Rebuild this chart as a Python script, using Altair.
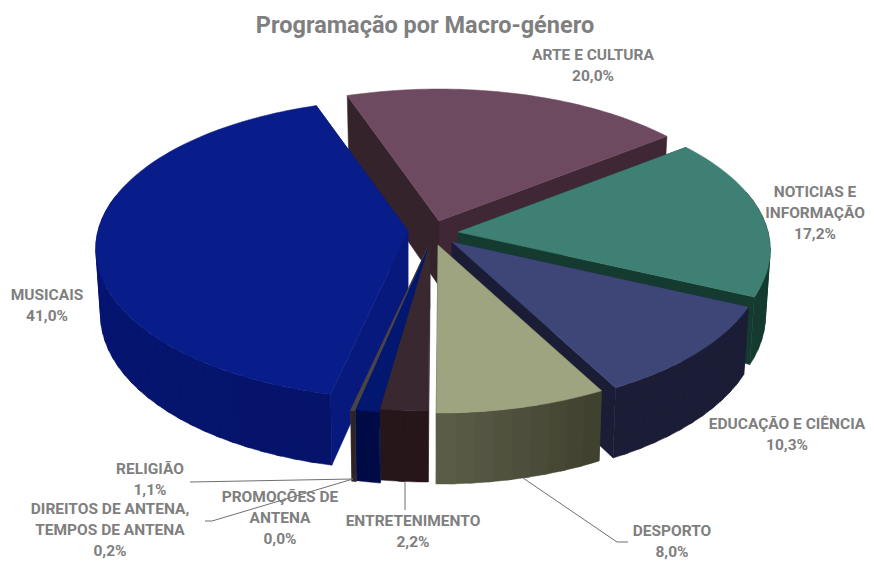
import math
import altair as alt

# --- data
categories = ["ARTE E CULTURA", "NOTICIAS E INFORMAÇÃO", "EDUCAÇÃO E CIÊNCIA", "DESPORTO",
              "ENTRETENIMENTO", "PROMOÇÕES DE ANTENA", "RELIGIÃO",
              "DIREITOS DE ANTENA, TEMPOS DE ANTENA", "MUSICAIS"]
shares = [20.0, 17.2, 10.3, 8.0, 2.2, 0.0, 1.1, 0.2, 41.0]
label_texts = ["ARTE E CULTURA\n20,0%", "NOTICIAS E\nINFORMAÇÃO\n17,2%", "EDUCAÇÃO E CIÊNCIA\n10,3%",
               "DESPORTO\n8,0%", "ENTRETENIMENTO\n2,2%", "PROMOÇÕES DE\nANTENA\n0,0%", "RELIGIÃO\n1,1%",
               "DIREITOS DE ANTENA,\nTEMPOS DE ANTENA\n0,2%", "MUSICAIS\n41,0%"]

# --- styling and layout
top_colors = ["#6e4a60", "#3e8073", "#3d4677", "#9ea380", "#3a2830", "#000000", "#02176f", "#4a4544", "#081c8a"]
side_colors = [("#3f2736", "#3f2736"), ("#153a30", "#153a30"), ("#1a1d35", "#1a1d35"), ("#5a5c48", "#40412e"),
               ("#261519", "#261519"), ("#000000", "#000000"), ("#000b45", "#000b45"), ("#2f2425", "#2f2425"),
               ("#05136a", "#06177a")]
cut_start = ["#35232b", "#153a30", "#1a1d35", "#40412e", "#3a2830", "#000000", "#02176f", "#4a4544", "#08197e"]
cut_end = ["#3f2736", "#153a30", "#1a1d35", "#40412e", "#3a2830", "#000000", "#02176f", "#4a4544", "#08197e"]
apex = [(439, 221), (458, 232), (452, 242), (438, 245), (430, 243), (430, 245), (429, 246), (428, 247), (408, 231)]
label_xy = [(593, 55), (815, 192), (787, 424), (672, 531), (413, 521), (280, 497), (150, 469), (110, 509), (47, 295)]
paint_order = [0, 1, 2, 3, 8, 7, 6, 4]
START = -19.5
RX, RY, PERSP = 310, 150, 0.12


def mix(c0, c1, t):
    a = [int(c0[i:i + 2], 16) for i in (1, 3, 5)]
    b = [int(c1[i:i + 2], 16) for i in (1, 3, 5)]
    return "#%02x%02x%02x" % tuple(round(u + (v - u) * t) for u, v in zip(a, b))


def top(i, deg, r=1.0):
    t = math.radians(deg)
    s = 1 - PERSP * r * math.cos(t)
    return (apex[i][0] + r * RX * math.sin(t) * s, apex[i][1] - r * RY * math.cos(t) * s)


def bottom(i, deg, r=1.0):
    x, y = top(i, deg, r)
    d = 65 - 6 * r * math.cos(math.radians(deg))
    return (apex[i][0] + (x - apex[i][0]) * 0.985, y + d)


def poly(points, fill):
    ring = [list(p) for p in points] + [list(points[0])]
    return {"type": "Feature", "properties": {"fill": fill}, "geometry": {"type": "Polygon", "coordinates": [ring]}}


edges, acc = [], START
for v in shares:
    edges.append((acc, acc + v * 3.6))
    acc += v * 3.6

features = []
for i in paint_order:
    a0, a1 = edges[i]
    # cut faces
    for deg, col in ((a0, cut_start[i]), (a1, cut_end[i])):
        features.append(poly([top(i, deg, 0), top(i, deg), bottom(i, deg), bottom(i, deg, 0)], col))
    # outer wall, in strips that overlap (only the part that faces the viewer)
    n = max(1, int((a1 - a0) / 3))
    for k in range(n):
        d0 = a0 + (a1 - a0) * k / n
        d1 = a0 + (a1 - a0) * (k + 1) / n
        if math.cos(math.radians((d0 + d1) / 2)) > 0.25:
            continue
        c0, c1 = side_colors[i]
        t = k / max(1, n - 1)
        if i == 3:
            t = 1 - t
        end = a1 if k == n - 1 else d1 + 1.0
        mids = [d0 + (end - d0) * j / 3 for j in range(4)]
        pts = [top(i, m) for m in mids] + [bottom(i, m) for m in reversed(mids)]
        features.append(poly(pts, mix(c0, c1, t)))
    # top face
    n = max(2, int((a1 - a0) / 1.5))
    arc = [top(i, a0 + (a1 - a0) * k / n) for k in range(n + 1)]
    features.append(poly([top(i, a0, 0)] + arc, top_colors[i]))

leaders = [
    [(190, 482), (353, 479)],
    [(205, 521), (212, 521), (353, 479)],
    [(405, 482), (405, 510)],
    [(523, 478), (617, 542), (628, 542)],
]
leader_features = [{"type": "Feature", "properties": {},
                    "geometry": {"type": "LineString", "coordinates": [list(p) for p in ln]}} for ln in leaders]

proj = alt.Projection(type="identity", scale=1, translate=[-8, -8])

pie = alt.Chart(alt.InlineData(values={"type": "FeatureCollection", "features": features},
                               format=alt.DataFormat(property="features", type="json"))).mark_geoshape(
    strokeWidth=0.5, opacity=1).encode(
    fill=alt.Fill("properties.fill:N", scale=None),
    stroke=alt.Stroke("properties.fill:N", scale=None),
).project(**proj.to_dict())

lines = alt.Chart(alt.InlineData(values={"type": "FeatureCollection", "features": leader_features},
                                 format=alt.DataFormat(property="features", type="json"))).mark_geoshape(
    filled=False, stroke="#6f6f6f", strokeWidth=1).project(**proj.to_dict())

FONT = "Roboto"
label_rows = [{"t": t, "x": x - 8, "y": y - 8, "cat": c}
              for t, (x, y), c in zip(label_texts, label_xy, categories)]
labels = alt.Chart(alt.Data(values=label_rows)).mark_text(
    font=FONT, fontSize=15.5, fontWeight="bold", color="#7f7f7f", lineBreak="\n", lineHeight=21,
    align="center", baseline="middle").encode(
    x=alt.X("x:Q", scale=None, axis=None), y=alt.Y("y:Q", scale=None, axis=None), text="t:N")

title = alt.Chart(alt.Data(values=[{"t": "Programação por Macro-género", "x": 425 - 8, "y": 26 - 8}])).mark_text(
    font=FONT, fontSize=23.5, fontWeight="bold", color="#7f7f7f", align="center", baseline="middle").encode(
    x=alt.X("x:Q", scale=None, axis=None), y=alt.Y("y:Q", scale=None, axis=None), text="t:N")

chart = alt.layer(pie, lines, labels, title).properties(
    width=858, height=554, padding=0, autosize="none", background="white"
).configure_view(stroke=None)

chart.save("out.html", embed_options={"renderer": "svg", "actions": False})
